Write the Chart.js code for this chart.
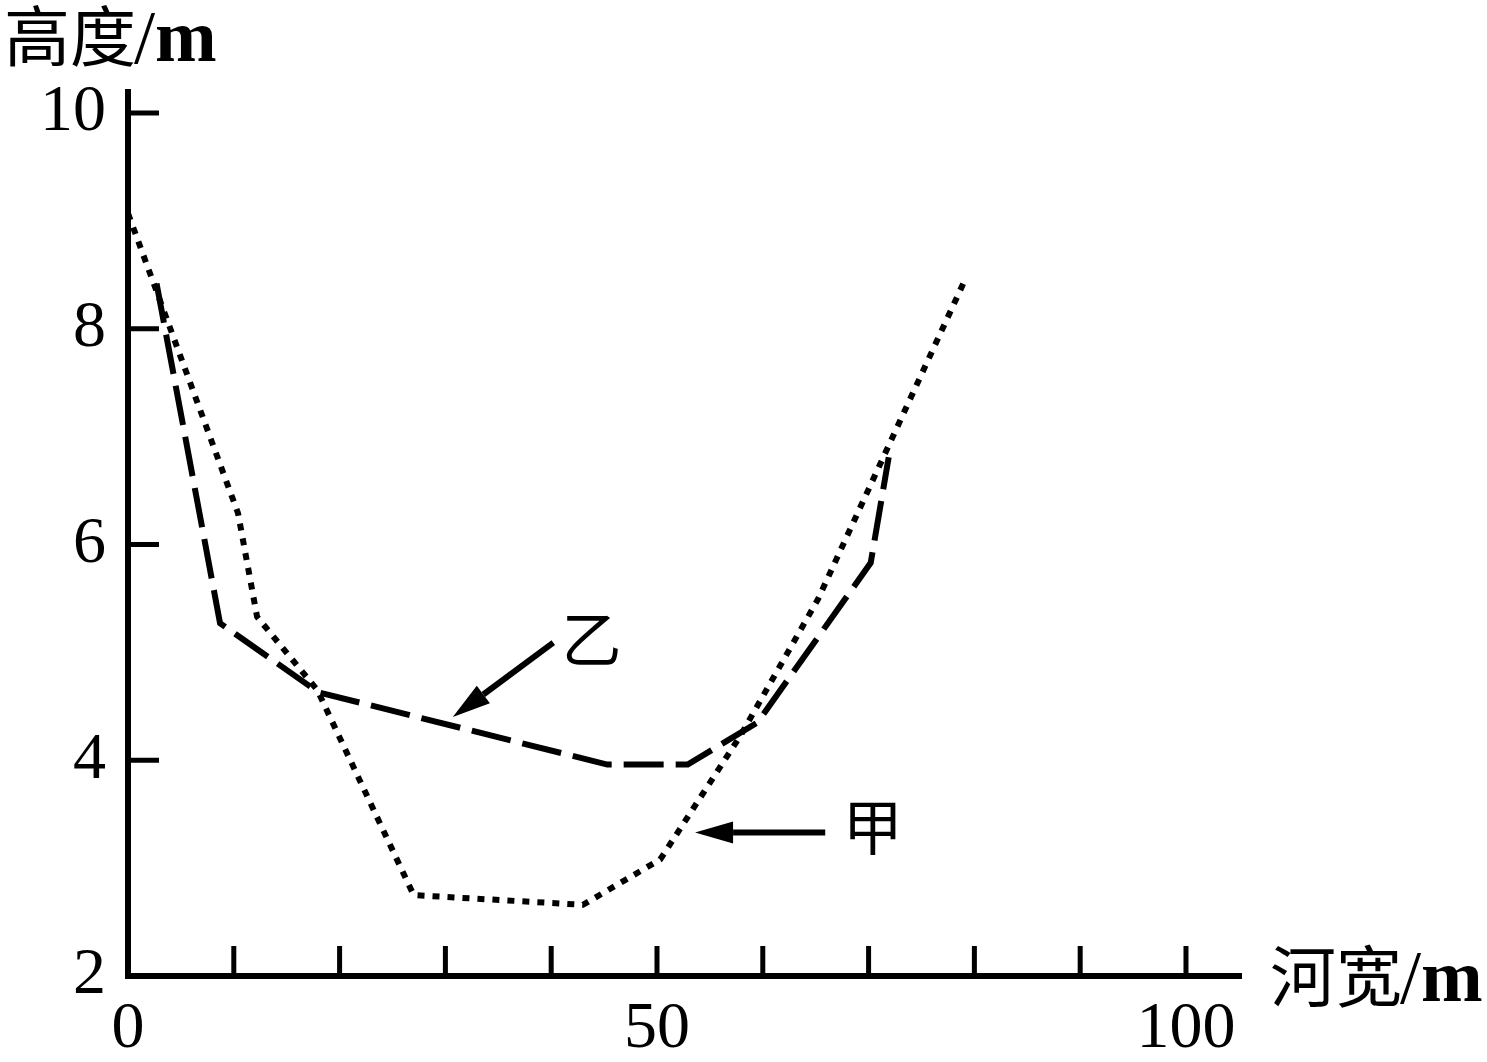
<!DOCTYPE html>
<html>
<head>
<meta charset="utf-8">
<script src="https://cdn.jsdelivr.net/npm/chart.js@4.4.1/dist/chart.umd.min.js"></script>
<style>
  html, body { margin: 0; padding: 0; background: #fff; }
  #wrap { width: 1487px; height: 1062px; position: relative; }
</style>
</head>
<body>
<div id="wrap"><canvas id="chart" width="1487" height="1062"></canvas></div>
<script>
'use strict';

// ── Data ─────────────────────────────────────────────────────────────────────

const X_TICKS = [0, 10, 20, 30, 40, 50, 60, 70, 80, 90, 100];
const X_LABELS = { 0: '0', 50: '50', 100: '100' };
const Y_TICKS = [2, 4, 6, 8, 10];

// 甲 (dotted)
const jiaX = [0, 10.4, 12.2, 17.9, 27.0, 43.0, 50.3, 57.9, 65.2, 79.0];
const jiaY = [9.07, 6.29, 5.33, 4.65, 2.75, 2.66, 3.08, 4.23, 5.49, 8.43];

// 乙 (dashed)
const yiX = [2.7, 8.7, 18.0, 45.3, 52.9, 59.5, 70.2, 71.9];
const yiY = [8.42, 5.27, 4.63, 3.96, 3.96, 4.35, 5.83, 6.81];

// annotations, in data units: [x, y]
const YI_LABEL  = [43.8, 5.12];
const YI_ARROW  = [[40.2, 5.09], [30.7, 4.40]];
const JIA_LABEL = [70.4, 3.38];
const JIA_ARROW = [[65.9, 3.33], [53.6, 3.33]];

const toPts = (xs, ys) => xs.map((x, i) => ({ x, y: ys[i] }));

const SERIF = '"Liberation Serif", "DejaVu Serif", serif';
const CJK   = '"Noto Sans CJK SC", sans-serif';

// ── Plugins ──────────────────────────────────────────────────────────────────

function arrow(ctx, x1, y1, x2, y2) {
  const ang = Math.atan2(y2 - y1, x2 - x1);
  const headLen = 38, headW = 11;
  const bx = x2 - headLen * Math.cos(ang);
  const by = y2 - headLen * Math.sin(ang);
  ctx.beginPath();
  ctx.moveTo(x1, y1);
  ctx.lineTo(bx, by);
  ctx.lineWidth = 6;
  ctx.stroke();
  ctx.beginPath();
  ctx.moveTo(x2, y2);
  ctx.lineTo(bx + headW * Math.sin(ang), by - headW * Math.cos(ang));
  ctx.lineTo(bx - headW * Math.sin(ang), by + headW * Math.cos(ang));
  ctx.closePath();
  ctx.fill();
}

const decor = {
  id: 'decor',
  afterDraw(chart) {
    const { ctx, scales: { x, y } } = chart;
    const px = v => x.getPixelForValue(v);
    const py = v => y.getPixelForValue(v);
    ctx.save();
    ctx.strokeStyle = '#000';
    ctx.fillStyle = '#000';

    // inward ticks
    ctx.lineWidth = 5;
    ctx.beginPath();
    Y_TICKS.filter(v => v > 2).forEach(v => {
      ctx.moveTo(px(0), py(v));
      ctx.lineTo(px(0) + 31, py(v));
    });
    X_TICKS.filter(v => v > 0).forEach(v => {
      ctx.moveTo(px(v), py(2));
      ctx.lineTo(px(v), py(2) - 30);
    });
    ctx.stroke();

    // arrows
    arrow(ctx, px(YI_ARROW[0][0]), py(YI_ARROW[0][1]), px(YI_ARROW[1][0]), py(YI_ARROW[1][1]));
    arrow(ctx, px(JIA_ARROW[0][0]), py(JIA_ARROW[0][1]), px(JIA_ARROW[1][0]), py(JIA_ARROW[1][1]));

    // series labels
    ctx.textAlign = 'center';
    ctx.textBaseline = 'middle';
    ctx.font = `60px ${CJK}`;
    ctx.fillText('乙', px(YI_LABEL[0]), py(YI_LABEL[1]));
    ctx.fillText('甲', px(JIA_LABEL[0]), py(JIA_LABEL[1]));

    // axis titles
    drawTitle(ctx, '高度', 4, 36);
    drawTitle(ctx, '河宽', 1270, 976);
    ctx.restore();
  },
};

function drawTitle(ctx, cjk, left, mid) {
  ctx.textAlign = 'left';
  ctx.textBaseline = 'middle';
  ctx.font = `66px ${CJK}`;
  ctx.fillText(cjk, left, mid);
  let cur = left + ctx.measureText(cjk).width;
  ctx.textBaseline = 'alphabetic';
  ctx.font = `76px ${SERIF}`;
  ctx.fillText('/', cur - 2, mid + 27);
  cur += ctx.measureText('/').width - 2;
  ctx.font = `bold 74px ${SERIF}`;
  ctx.fillText('m', cur, mid + 25);
}

// ── Chart ────────────────────────────────────────────────────────────────────

new Chart(document.getElementById('chart').getContext('2d'), {
  type: 'line',
  data: {
    datasets: [
      {
        label: '甲',
        data: toPts(jiaX, jiaY),
        borderColor: '#000',
        borderWidth: 6,
        borderDash: [7, 8],
        borderCapStyle: 'butt',
        pointRadius: 0,
        tension: 0,
        fill: false,
      },
      {
        label: '乙',
        data: toPts(yiX, yiY),
        borderColor: '#000',
        borderWidth: 6,
        borderDash: [40, 12],
        borderCapStyle: 'butt',
        pointRadius: 0,
        tension: 0,
        fill: false,
      },
    ],
  },
  options: {
    responsive: false,
    animation: false,
    layout: { padding: { top: 92, right: 246, bottom: 0, left: 0 } },
    plugins: {
      legend: { display: false },
      tooltip: { enabled: false },
    },
    scales: {
      x: {
        type: 'linear',
        min: 0,
        max: 105.2,
        afterFit: s => { s.height = 86; },
        afterBuildTicks: s => { s.ticks = X_TICKS.map(v => ({ value: v })); },
        grid: { display: false, drawTicks: false },
        border: { display: true, color: '#000', width: 6 },
        ticks: {
          color: '#000',
          padding: 14,
          maxRotation: 0,
          autoSkip: false,
          font: { family: SERIF, size: 66 },
          callback: v => X_LABELS[v] !== undefined ? X_LABELS[v] : '',
        },
      },
      y: {
        type: 'linear',
        min: 2,
        max: 10.195,
        afterFit: s => { s.width = 128; },
        afterBuildTicks: s => { s.ticks = Y_TICKS.map(v => ({ value: v })); },
        grid: { display: false, drawTicks: false },
        border: { display: true, color: '#000', width: 6 },
        ticks: {
          color: '#000',
          padding: 22,
          autoSkip: false,
          font: { family: SERIF, size: 66 },
          callback: v => String(v),
        },
      },
    },
  },
  plugins: [decor],
});
</script>
</body>
</html>
